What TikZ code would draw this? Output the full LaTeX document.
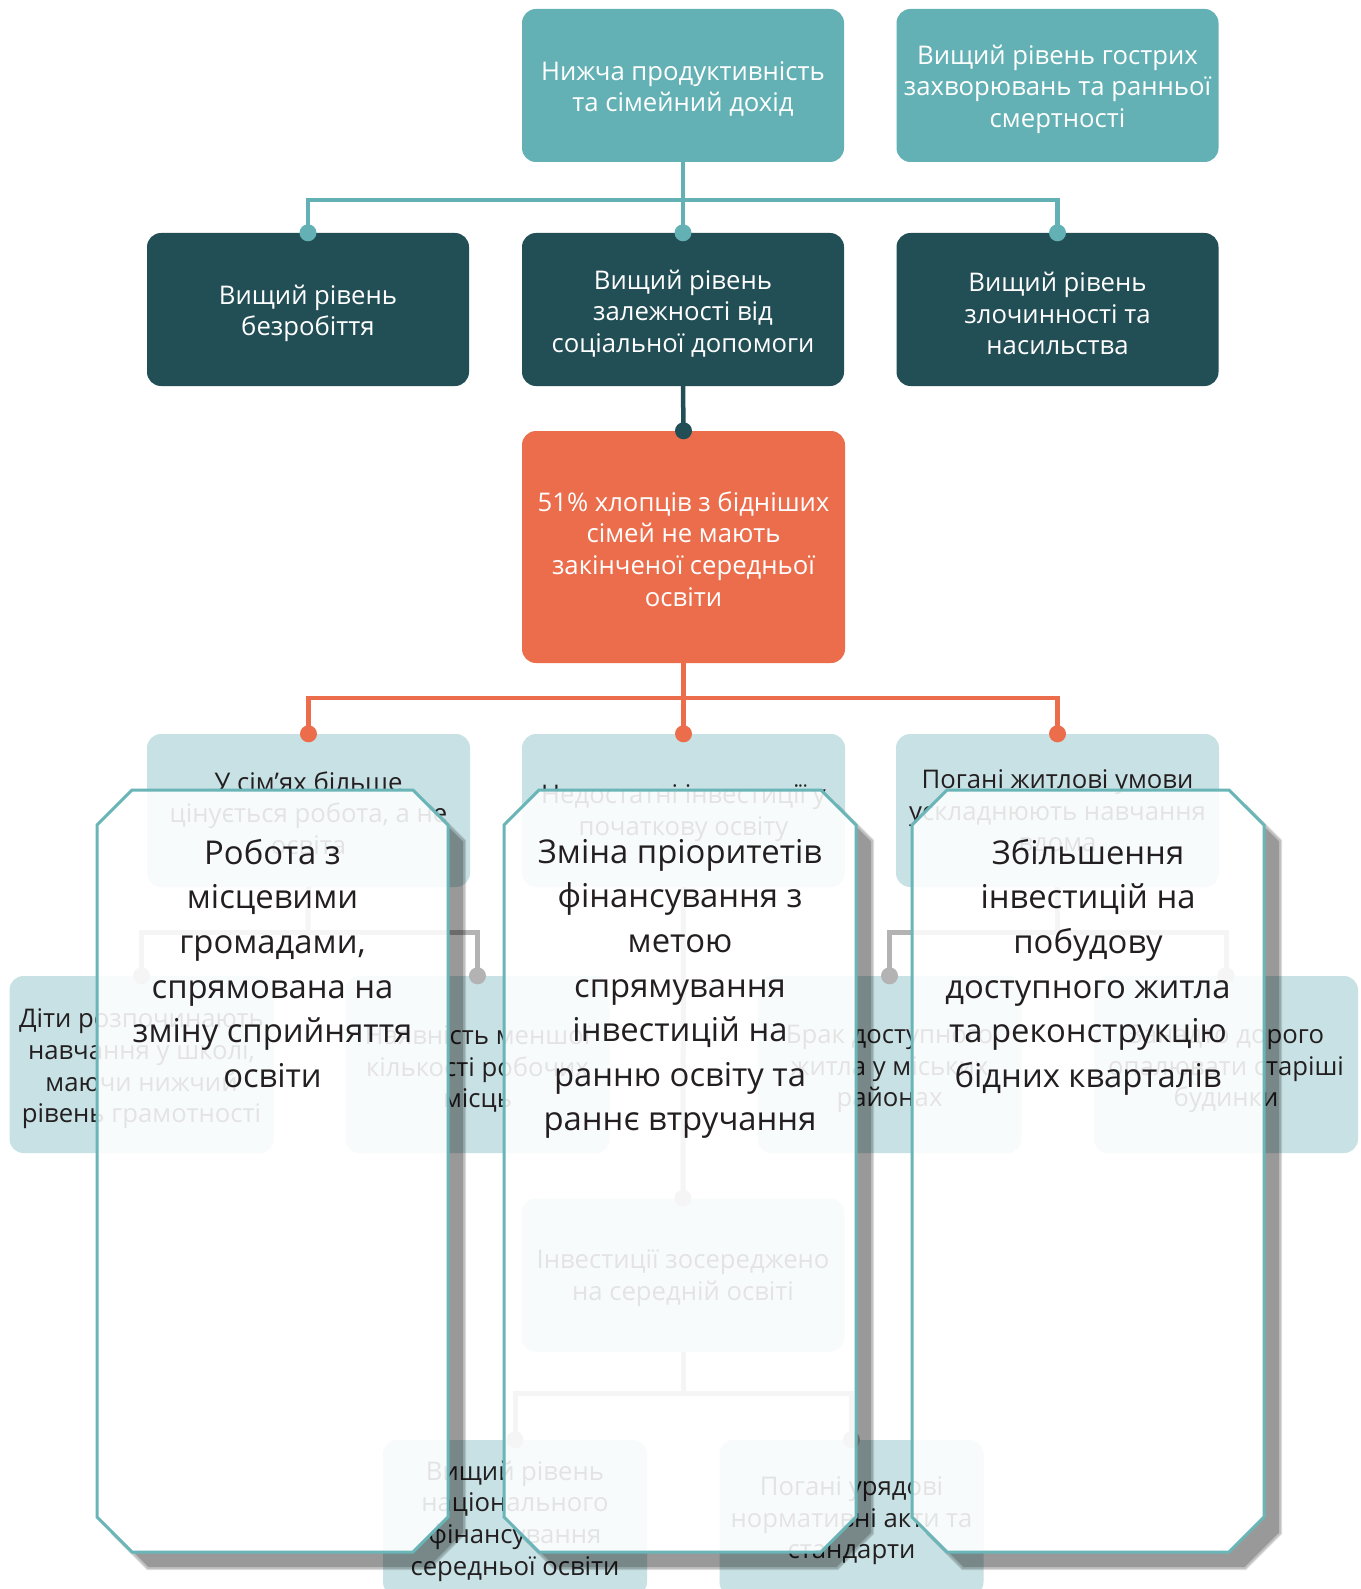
\documentclass[tikz,border=0pt]{standalone}
\usepackage{fontspec}
\setmainfont{Open Sans}
\definecolor{cteal}{HTML}{63B1B4}
\definecolor{cdark}{HTML}{224E55}
\definecolor{corange}{HTML}{EC6D4C}
\definecolor{clight}{HTML}{C8E1E4}
\definecolor{cgray}{HTML}{B3B3B3}
\definecolor{ctext}{HTML}{231F20}
\definecolor{cborder}{HTML}{6AB5B8}
% octagon, clockwise on screen
\newcommand\octcw[5]{(#1+#5,#2) -- (#3-#5,#2) -- (#3,#2+#5) -- (#3,#4-#5) -- (#3-#5,#4) -- (#1+#5,#4) -- (#1,#4-#5) -- (#1,#2+#5) -- cycle}
% octagon, counter-clockwise on screen
\newcommand\octccw[5]{(#1+#5,#2) -- (#1,#2+#5) -- (#1,#4-#5) -- (#1+#5,#4) -- (#3-#5,#4) -- (#3,#4-#5) -- (#3,#2+#5) -- (#3-#5,#2) -- cycle}
\begin{document}
\begin{tikzpicture}[x=1pt,y=-1pt,
  basebox/.style={rounded corners=14pt, inner sep=0pt},
  topbox/.style={basebox, fill=cteal, minimum width=322pt, minimum height=153pt},
  darkbox/.style={basebox, fill=cdark, minimum width=322pt, minimum height=153pt},
  orbox/.style={basebox, fill=corange, minimum width=323pt, minimum height=232pt},
  lightbox/.style={basebox, fill=clight, minimum width=323pt, minimum height=153pt},
  smallbox/.style={basebox, fill=clight, minimum width=264pt, minimum height=177pt},
  botbox/.style={basebox, fill=clight, minimum width=264pt, minimum height=156pt},
  btxt/.style={align=center, inner sep=0pt, font=\fontsize{25.7}{31.6}\selectfont},
  wtxt/.style={btxt, text=white},
  ktxt/.style={btxt, text=ctext},
  tline/.style={draw=cteal, line width=4.5pt},
  dline/.style={draw=cdark, line width=4.5pt},
  oline/.style={draw=corange, line width=4.5pt},
  gline/.style={draw=cgray, line width=5pt},
  paneltxt/.style={align=center, inner sep=0pt, anchor=north, text=ctext, font=\fontsize{32.8}{44.6}\selectfont},
  panel/.style={fill=white, fill opacity=0.88, draw=cborder, line width=3pt, line join=miter}
]
\clip (0,0) rectangle (1360,1589);
\fill[white] (0,0) rectangle (1360,1589);

% ---- top rows
\node[topbox] (t1) at (683,85.5) {};
\node[wtxt] at ([yshift=-3.5pt]t1.center) {Нижча продуктивність\\та сімейний дохід};
\node[topbox] (t2) at (1057.5,85.5) {};
\node[wtxt] at ([yshift=-3.5pt]t2.center) {Вищий рівень гострих\\захворювань та ранньої\\смертності};
\node[darkbox] (d1) at (308,309.5) {};
\node[wtxt] at ([yshift=-4pt]d1.center) {Вищий рівень\\безробіття};
\node[darkbox] (d2) at (683,309.5) {};
\node[wtxt] at ([yshift=-4pt]d2.center) {Вищий рівень\\залежності від\\соціальної допомоги};
\node[darkbox] (d3) at (1057.5,309.5) {};
\node[wtxt] at ([yshift=-4pt]d3.center) {Вищий рівень\\злочинності та\\насильства};
\node[orbox] (o) at (683.5,547) {};
\node[wtxt] at ([yshift=-2pt]o.center) {51\% хлопців з бідніших\\сімей не мають\\закінченої середньої\\освіти};

% ---- row 3
\node[lightbox] (r1) at (308.5,810.5) {};
\node[ktxt] at ([yshift=-2.5pt]r1.center) {У сім’ях більше\\цінується робота, а не\\освіта};
\node[lightbox] (r2) at (683.5,810.5) {};
\node[ktxt] at ([yshift=-2.5pt]r2.center) {Недостатні інвестиції у\\початкову освіту};
\node[lightbox] (r3) at (1057.5,810.5) {};
\node[ktxt] at ([yshift=-2.5pt]r3.center) {Погані житлові умови\\ускладнюють навчання\\вдома};

% ---- row 4
\node[smallbox] (f1) at (141.5,1064.5) {};
\node[ktxt] at ([yshift=-4.5pt]f1.center) {Діти розпочинають\\навчання у школі,\\маючи нижчий\\рівень грамотності};
\node[smallbox] (f2) at (477.5,1064.5) {};
\node[ktxt] at ([yshift=-4.5pt]f2.center) {Наявність меншої\\кількості робочих\\місць};
\node[smallbox] (f3) at (889.5,1064.5) {};
\node[ktxt] at ([yshift=-4.5pt]f3.center) {Брак доступного\\житла у міських\\районах};
\node[smallbox] (f4) at (1226,1064.5) {};
\node[ktxt] at ([yshift=-4.5pt]f4.center) {Занадто дорого\\опалювати старіші\\будинки};

% ---- centre column below
\node[lightbox] (inv) at (683,1275) {};
\node[ktxt] at ([yshift=-3pt]inv.center) {Інвестиції зосереджено\\на середній освіті};
\node[botbox] (b1) at (515,1518) {};
\node[ktxt] at ([yshift=-3pt]b1.center) {Вищий рівень\\національного\\фінансування\\середньої освіти};
\node[botbox] (b2) at (851.5,1518) {};
\node[ktxt] at ([yshift=-3pt]b2.center) {Погані урядові\\нормативні акти та\\стандарти};

% ---- connectors
\coordinate (j1) at (683,200);
\draw[tline] (t1.south) -- (d2.north);
\draw[tline] (d1.north) |- (j1) -| (d3.north);
\foreach \n in {d1,d2,d3} \fill[cteal] (\n.north) circle (8.5pt);

\draw[dline] (d2.south) -- (o.north);
\fill[cdark] (o.north) circle (8.5pt);

\coordinate (j2) at (683,698);
\draw[oline] (o.south) -- (r2.north);
\draw[oline] (r1.north) |- (j2) -| (r3.north);
\foreach \n in {r1,r2,r3} \fill[corange] (\n.north) circle (8.5pt);

\coordinate (j3) at (308,932);
\coordinate (j4) at (1057.5,932);
\coordinate (j5) at (683,1393);
\draw[gline] (r1.south) -- (j3);
\draw[gline] (f1.north) |- (j3) -| (f2.north);
\draw[gline] (r3.south) -- (j4);
\draw[gline] (f3.north) |- (j4) -| (f4.north);
\draw[gline] (r2.south) -- (inv.north);
\draw[gline] (inv.south) -- (j5);
\draw[gline] (b1.north) |- (j5) -| (b2.north);
\foreach \n in {f1,f2,f3,f4,inv,b1,b2} \fill[cgray] (\n.north) circle (8.5pt);

% ---- overlay panels with soft drop shadows
\foreach \xa/\xb in {97/448, 504/856, 912/1264} {
  \begin{scope}
    \clip (0,0) -- (1360,0) -- (1360,1589) -- (0,1589) -- cycle \octccw{\xa}{790}{\xb}{1552}{35};
    \fill[black, opacity=0.12] \octcw{\xa+14}{804}{\xb+18}{1570}{36};
    \fill[black, opacity=0.14] \octcw{\xa+15}{805}{\xb+17}{1569}{35.5};
    \fill[black, opacity=0.2] \octcw{\xa+17}{807}{\xb+15}{1567}{34.5};
  \end{scope}
  \path[panel] \octcw{\xa}{790}{\xb}{1552}{35};
}

\node[paneltxt] (p1) at (272.5,839) {Робота з\\місцевими\\громадами,\\спрямована на\\зміну сприйняття\\освіти};
\node[paneltxt] (p2) at (680,839) {Зміна пріоритетів\\фінансування з\\метою\\спрямування\\інвестицій на\\ранню освіту та\\раннє втручання};
\node[paneltxt] (p3) at (1088,839) {Збільшення\\інвестицій на\\побудову\\доступного житла\\та реконструкцію\\бідних кварталів};
\end{tikzpicture}
\end{document}
